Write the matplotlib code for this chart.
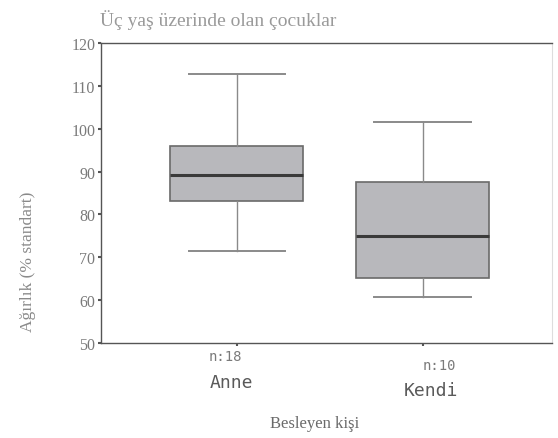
import matplotlib
matplotlib.use("Agg")
import matplotlib.pyplot as plt

# values
groups = ["Anne", "Kendi"]
counts = ["n:18", "n:10"]
whislo = [71.5, 60.8]
q1 = [83.1, 65.2]
med = [89.3, 74.9]
q3 = [95.9, 87.6]
whishi = [112.8, 101.6]
yticks = [50, 60, 70, 80, 90, 100, 110, 120]

txt = "#5a5a5a"
serif = ["Liberation Serif", "DejaVu Serif"]

fig = plt.figure(figsize=(5.58, 4.39), dpi=100)
ax = fig.add_axes([0.181, 0.216, 0.808, 0.684])

stats = []
for i in range(len(groups)):
    stats.append({"label": groups[i], "whislo": whislo[i], "q1": q1[i],
                  "med": med[i], "q3": q3[i], "whishi": whishi[i], "fliers": []})

ax.bxp(stats, positions=[1, 2], widths=0.715, capwidths=0.52,
       showfliers=False, patch_artist=True,
       boxprops=dict(facecolor="#b8b8bc", edgecolor="#6a6a6a", linewidth=1.2),
       medianprops=dict(color="#3a3a3a", linewidth=2.2),
       whiskerprops=dict(color="#8a8a8a", linewidth=1.0),
       capprops=dict(color="#8a8a8a", linewidth=1.4))

ax.set_xlim(0.269, 2.694)
ax.set_ylim(50, 120)
ax.set_yticks(yticks)
ax.set_yticklabels([str(v) for v in yticks], family=serif, fontsize=11.5, color="#7a7a7a")
ax.set_xticks([1, 2])
ax.set_xticklabels(["", ""])
ax.tick_params(axis="both", length=2, width=1.5, color="#555555", pad=2)

for s in ["left", "bottom", "top"]:
    ax.spines[s].set_color("#555555")
    ax.spines[s].set_linewidth(1.0)
ax.spines["right"].set_color("#dddddd")
ax.spines["right"].set_linewidth(0.8)

# category labels with group counts (the second group sits a little lower in the scan)
count_off = [-9, -16]
name_off = [-28, -34]
x_shift = [-8, 12]
for i in range(len(groups)):
    ax.annotate(counts[i], xy=(i + 1, 50), xycoords="data",
                xytext=(x_shift[i], count_off[i]),
                textcoords="offset points", ha="center", va="center",
                fontsize=10, color="#7a7a7a", family="DejaVu Sans Mono")
    ax.annotate(groups[i], xy=(i + 1, 50), xycoords="data",
                xytext=(x_shift[i] / 2, name_off[i]),
                textcoords="offset points", ha="center", va="center",
                fontsize=13, color=txt, family="DejaVu Sans Mono")

ax.set_ylabel("Ağırlık (% standart)", family=serif, fontsize=12.5, color="#8a8a8a")
ax.yaxis.set_label_coords(-0.145, 0.273)
fig.text(0.563, 0.025, "Besleyen kişi", family=serif, fontsize=12, color="#6a6a6a", ha="center")
fig.text(0.18, 0.94, "Üç yaş üzerinde olan çocuklar", family=serif, fontsize=14,
         color="#9a9a9a", ha="left")

fig.savefig("out.png", dpi=100)
